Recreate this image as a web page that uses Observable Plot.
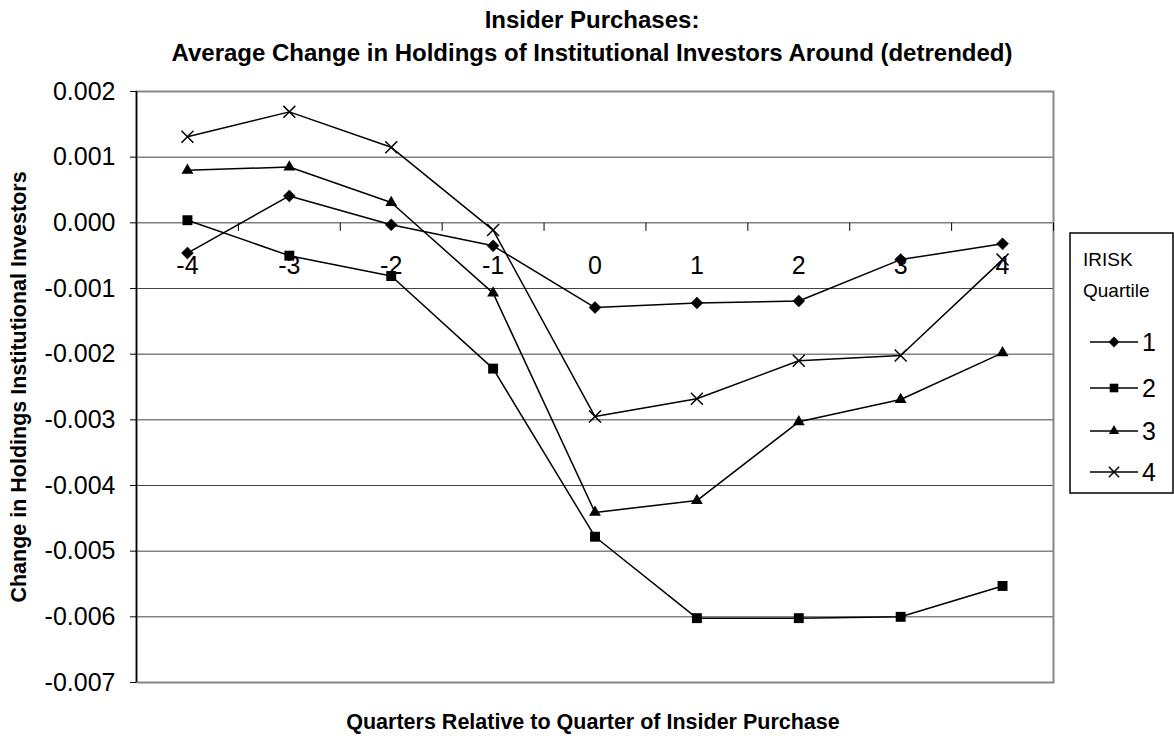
<!DOCTYPE html>
<html>
<head>
<meta charset="utf-8">
<script src="https://cdn.jsdelivr.net/npm/d3@7"></script>
<script src="https://cdn.jsdelivr.net/npm/@observablehq/plot@0.6"></script>
<style>
  html, body { margin: 0; padding: 0; background: #fff; }
  #chart { width: 1174px; height: 736px; }
</style>
</head>
<body>
<div id="chart"></div>
<script>
// ---- data ----
const quarters = [-4, -3, -2, -1, 0, 1, 2, 3, 4];
const seriesNames = ["1", "2", "3", "4"];
const q1 = [-0.00046, 0.00041, -0.00003, -0.00035, -0.00129, -0.00122, -0.00119, -0.00056, -0.00032];
const q2 = [0.00004, -0.00050, -0.00081, -0.00222, -0.00478, -0.00602, -0.00602, -0.00600, -0.00553];
const q3 = [0.00080, 0.00085, 0.00031, -0.00107, -0.00441, -0.00423, -0.00303, -0.00269, -0.00198];
const q4 = [0.00131, 0.00169, 0.00115, -0.00011, -0.00295, -0.00268, -0.00210, -0.00202, -0.00056];
const yTicks = [0.002, 0.001, 0, -0.001, -0.002, -0.003, -0.004, -0.005, -0.006, -0.007];
const titleLines = ["Insider Purchases:", "Average Change in Holdings of Institutional Investors Around (detrended)"];
const xTitle = "Quarters Relative to Quarter of Insider Purchase";
const yTitle = "Change in Holdings Institutional Investors";
const legendTitle = ["IRISK", "Quartile"];

// ---- table built from arrays ----
const allSeries = [q1, q2, q3, q4];
const rows = [];
allSeries.forEach((vals, s) => vals.forEach((v, i) => rows.push({series: seriesNames[s], q: quarters[i], v})));
const bySeries = name => rows.filter(d => d.series === name);
const bounds = d3.range(quarters.length + 1).map(i => quarters[0] - 0.5 + i);

const FONT = "'Liberation Sans', Arial, sans-serif";
const fmt = d => (Math.abs(d) < 1e-12 ? 0 : d).toFixed(3);

const symbols = {
  "1": {symbol: "diamond2", r: 5.4, fill: "black", stroke: "black", strokeWidth: 0.5},
  "2": {symbol: "square", r: 5.6, fill: "black", stroke: "none"},
  "3": {symbol: "triangle", r: 4.4, fill: "black", stroke: "none"},
  "4": {symbol: "times", r: 5.5, fill: "none", stroke: "black", strokeWidth: 1.5}
};
const tickDown = {draw(ctx) { ctx.moveTo(0, 0); ctx.lineTo(0, 8); }};

function legendMark(index, scales, values, dims) {
  const g = d3.create("svg:g").attr("font-family", FONT).attr("text-anchor", "start").attr("fill", "black");
  const x0 = 1070, y0 = 233, w = 103, h = 260;
  g.append("rect").attr("x", x0).attr("y", y0).attr("width", w).attr("height", h)
    .attr("fill", "white").attr("stroke", "black").attr("stroke-width", 1.5);
  g.append("text").attr("x", 1083).attr("y", 266).attr("font-size", 19).attr("text-anchor", "start").text(legendTitle[0]);
  g.append("text").attr("x", 1083).attr("y", 297).attr("font-size", 19).attr("text-anchor", "start").text(legendTitle[1]);
  const ys = [342, 388, 431, 472];
  const symMap = {diamond2: d3.symbolDiamond2, square: d3.symbolSquare, triangle: d3.symbolTriangle, times: d3.symbolTimes};
  seriesNames.forEach((name, i) => {
    const y = ys[i];
    g.append("line").attr("x1", 1090).attr("x2", 1138).attr("y1", y).attr("y2", y)
      .attr("stroke", "black").attr("stroke-width", 1.5);
    const s = symbols[name];
    g.append("path").attr("transform", `translate(1114,${y})`)
      .attr("d", d3.symbol(symMap[s.symbol], Math.PI * s.r * s.r * 0.75)())
      .attr("fill", s.fill).attr("stroke", s.stroke).attr("stroke-width", s.strokeWidth || 0);
    g.append("text").attr("x", 1142).attr("y", y).attr("dy", "0.36em").attr("font-size", 25).attr("text-anchor", "start").text(name);
  });
  return g.node();
}

const marks = [
  // grid
  Plot.ruleY(yTicks.filter(t => t !== 0 && t !== 0.002 && t !== -0.007), {stroke: "#444", strokeWidth: 1}),
  Plot.frame({stroke: "#888", strokeWidth: 2}),
  Plot.ruleY([0], {stroke: "#808080", strokeWidth: 1.5}),
  Plot.ruleX([bounds[0]], {stroke: "black", strokeWidth: 1.5}),
  Plot.dot(bounds, {x: d => d, y: 0, symbol: tickDown, r: 4, stroke: "black", strokeWidth: 1}),
  Plot.axisY({ticks: yTicks, tickFormat: fmt, tickSize: 6, tickPadding: 15, fontSize: 25, label: null, fill: "black", stroke: "black", strokeOpacity: 1}),
  // category labels sit under the zero line
  Plot.text(quarters, {x: d => d, y: 0, text: d => String(d), dy: 43, fontSize: 25, fill: "black", lineAnchor: "middle"}),
];
seriesNames.forEach(name => {
  const s = symbols[name];
  marks.push(Plot.line(bySeries(name), {x: "q", y: "v", stroke: "black", strokeWidth: 1.5}));
  marks.push(Plot.dot(bySeries(name), {x: "q", y: "v", symbol: s.symbol, r: s.r, fill: s.fill, stroke: s.stroke, strokeWidth: s.strokeWidth || 1}));
});
marks.push(
  Plot.text([titleLines[0]], {frameAnchor: "top", dx: -3, dy: -71, text: d => d, fontSize: 24, fontWeight: "bold", fill: "black", lineAnchor: "middle"}),
  Plot.text([titleLines[1]], {frameAnchor: "top", dx: -3, dy: -38, text: d => d, fontSize: 24, fontWeight: "bold", fill: "black", lineAnchor: "middle"}),
  Plot.text([xTitle], {frameAnchor: "bottom", dx: -2, dy: 40, text: d => d, fontSize: 21.5, fontWeight: "bold", fill: "black", lineAnchor: "middle"}),
  Plot.text([yTitle], {frameAnchor: "left", dx: -117, text: d => d, rotate: -90, textAnchor: "middle", fontSize: 21.5, fontWeight: "bold", fill: "black", lineAnchor: "middle"}),
  legendMark
);

const chart = Plot.plot({
  width: 1174,
  height: 736,
  marginLeft: 136,
  marginRight: 121,
  marginTop: 91,
  marginBottom: 54,
  style: {fontFamily: FONT, background: "white", color: "black", overflow: "visible"},
  x: {type: "linear", domain: [bounds[0], bounds[bounds.length - 1]], axis: null},
  y: {type: "linear", domain: [-0.007, 0.002], axis: null},
  marks
});
document.getElementById("chart").appendChild(chart);
</script>
</body>
</html>
